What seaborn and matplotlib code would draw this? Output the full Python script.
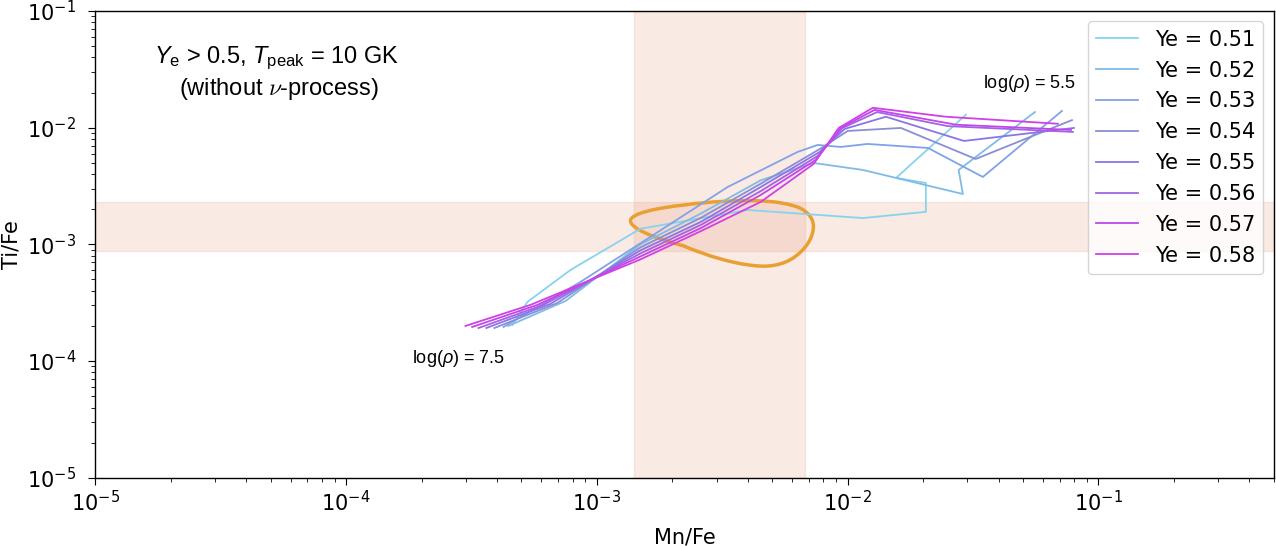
import matplotlib
matplotlib.use("Agg")
import matplotlib.pyplot as plt
from matplotlib.patches import Ellipse
import pandas as pd
import seaborn as sns

# Ti/Fe vs Mn/Fe tracks, one per Ye, from log(rho)=7.5 (lower left) to 5.5 (upper right)
ye_values = [0.51, 0.52, 0.53, 0.54, 0.55, 0.56, 0.57, 0.58]

mn_051 = [4.60e-4, 5.28e-4, 7.84e-4, 1.49e-3, 3.99e-3, 1.15e-2, 2.05e-2, 2.05e-2, 1.56e-2, 2.96e-2]
ti_051 = [2.04e-4, 3.21e-4, 6.03e-4, 1.36e-3, 1.97e-3, 1.68e-3, 1.90e-3, 3.36e-3, 3.71e-3, 1.29e-2]

mn_052 = [4.43e-4, 7.49e-4, 1.49e-3, 2.60e-3, 4.50e-3, 7.32e-3, 1.15e-2, 2.88e-2, 2.77e-2, 5.58e-2]
ti_052 = [2.00e-4, 3.27e-4, 1.00e-3, 1.84e-3, 3.54e-3, 4.98e-3, 4.34e-3, 2.70e-3, 4.34e-3, 1.36e-2]

mn_053 = [4.24e-4, 8.59e-4, 3.32e-3, 6.31e-3, 7.59e-3, 9.38e-3, 1.20e-2, 2.09e-2, 3.46e-2, 7.15e-2]
ti_053 = [1.96e-4, 4.76e-4, 3.10e-3, 6.19e-3, 7.11e-3, 6.83e-3, 7.25e-3, 6.70e-3, 3.78e-3, 1.39e-2]

mn_054 = [3.90e-4, 6.96e-4, 1.49e-3, 2.60e-3, 4.50e-3, 7.87e-3, 1.00e-2, 1.63e-2, 3.24e-2, 7.84e-2]
ti_054 = [1.92e-4, 3.15e-4, 9.42e-4, 1.69e-3, 3.31e-3, 6.70e-3, 9.37e-3, 9.94e-3, 5.39e-3, 1.16e-2]

mn_055 = [3.62e-4, 6.52e-4, 1.49e-3, 2.60e-3, 4.50e-3, 7.73e-3, 9.73e-3, 1.42e-2, 2.91e-2, 7.98e-2]
ti_055 = [1.92e-4, 3.09e-4, 8.88e-4, 1.56e-3, 3.10e-3, 6.19e-3, 9.75e-3, 1.24e-2, 7.69e-3, 9.94e-3]

mn_056 = [3.37e-4, 6.11e-4, 1.49e-3, 2.60e-3, 4.50e-3, 7.59e-3, 9.55e-3, 1.31e-2, 2.51e-2, 7.91e-2]
ti_056 = [1.92e-4, 3.03e-4, 8.36e-4, 1.47e-3, 2.86e-3, 5.72e-3, 9.94e-3, 1.36e-2, 1.03e-2, 9.19e-3]

mn_057 = [3.18e-4, 5.79e-4, 1.49e-3, 2.60e-3, 4.50e-3, 7.45e-3, 9.38e-3, 1.28e-2, 2.70e-2, 7.77e-2]
ti_057 = [1.96e-4, 3.03e-4, 7.88e-4, 1.38e-3, 2.65e-3, 5.29e-3, 9.94e-3, 1.42e-2, 1.06e-2, 9.56e-3]

mn_058 = [2.99e-4, 5.43e-4, 1.49e-3, 2.60e-3, 4.50e-3, 7.32e-3, 9.21e-3, 1.26e-2, 2.46e-2, 6.89e-2]
ti_058 = [2.00e-4, 3.03e-4, 7.43e-4, 1.30e-3, 2.31e-3, 4.89e-3, 9.94e-3, 1.48e-2, 1.24e-2, 1.08e-2]

mn_tracks = [mn_051, mn_052, mn_053, mn_054, mn_055, mn_056, mn_057, mn_058]
ti_tracks = [ti_051, ti_052, ti_053, ti_054, ti_055, ti_056, ti_057, ti_058]

# observed ranges (shaded bands)
mn_obs = [1.40e-3, 6.75e-3]
ti_obs = [8.83e-4, 2.30e-3]

# ellipse (linear units)
ell_center = (4.33e-3, 1.51e-3)
ell_width = 5.94e-3
ell_height = 1.71e-3
ell_angle = -1.8

track_colors = ["#87d3ee", "#7fbbe6", "#7fa3ea", "#8a8ed6",
                "#8a74ea", "#a463e0", "#c146ea", "#d23fe8"]

rows = []
for ye, mn, ti in zip(ye_values, mn_tracks, ti_tracks):
    for i in range(len(mn)):
        rows.append({"Mn/Fe": mn[i], "Ti/Fe": ti[i], "Ye": f"Ye = {ye:.2f}", "step": i})
df = pd.DataFrame(rows)

plt.rcParams["mathtext.fontset"] = "dejavusans"
plt.rcParams["mathtext.rm"] = "Liberation Sans"
plt.rcParams["mathtext.it"] = "Liberation Sans:italic"
plt.rcParams["axes.linewidth"] = 1.0

fig = plt.figure(figsize=(12.76, 5.46), dpi=100)
ax = fig.add_axes([0.0748, 0.1249, 0.9234, 0.8551])

ax.axvspan(mn_obs[0], mn_obs[1], color="darksalmon", alpha=0.2, zorder=0.5)
ax.axhspan(ti_obs[0], ti_obs[1], color="darksalmon", alpha=0.2, zorder=0.5)

ax.add_patch(Ellipse(ell_center, ell_width, ell_height, angle=ell_angle,
                     fill=False, edgecolor="#e8a032", lw=2.5, zorder=1.5))

sns.lineplot(data=df, x="Mn/Fe", y="Ti/Fe", hue="Ye", palette=track_colors,
             sort=False, estimator=None, units="Ye", lw=1.3, ax=ax, zorder=2)

ax.set_xscale("log")
ax.set_yscale("log")
ax.set_xlim(1e-5, 0.5)
ax.set_ylim(1e-5, 1e-1)
ax.set_xlabel("Mn/Fe", fontsize=15, labelpad=9)
ax.set_ylabel("Ti/Fe", fontsize=15)
ax.tick_params(axis="both", which="major", labelsize=15, length=5)
ax.tick_params(axis="both", which="minor", length=3)
ax.tick_params(axis="y", which="major", pad=9)

sns.move_legend(ax, "upper right", title=None, fontsize=15, labelspacing=0.52)

ax.text(0.154, 0.899, r"$Y_{\rm e}$ > 0.5, $T_{\rm peak}$ = 10 GK", transform=ax.transAxes,
        ha="center", va="center", fontsize=17, family="Liberation Sans", math_fontfamily="custom")
ax.text(0.156, 0.833, r"(without $\nu$-process)", transform=ax.transAxes,
        ha="center", va="center", fontsize=17, family="Liberation Sans", math_fontfamily="cm")
ax.text(5.33e-2, 2.37e-2, r"log($\rho$) = 5.5", ha="center", va="center",
        fontsize=13, family="Liberation Sans", math_fontfamily="custom")
ax.text(2.80e-4, 1.05e-4, r"log($\rho$) = 7.5", ha="center", va="center",
        fontsize=13, family="Liberation Sans", math_fontfamily="custom")

fig.savefig("out.png", dpi=100)
